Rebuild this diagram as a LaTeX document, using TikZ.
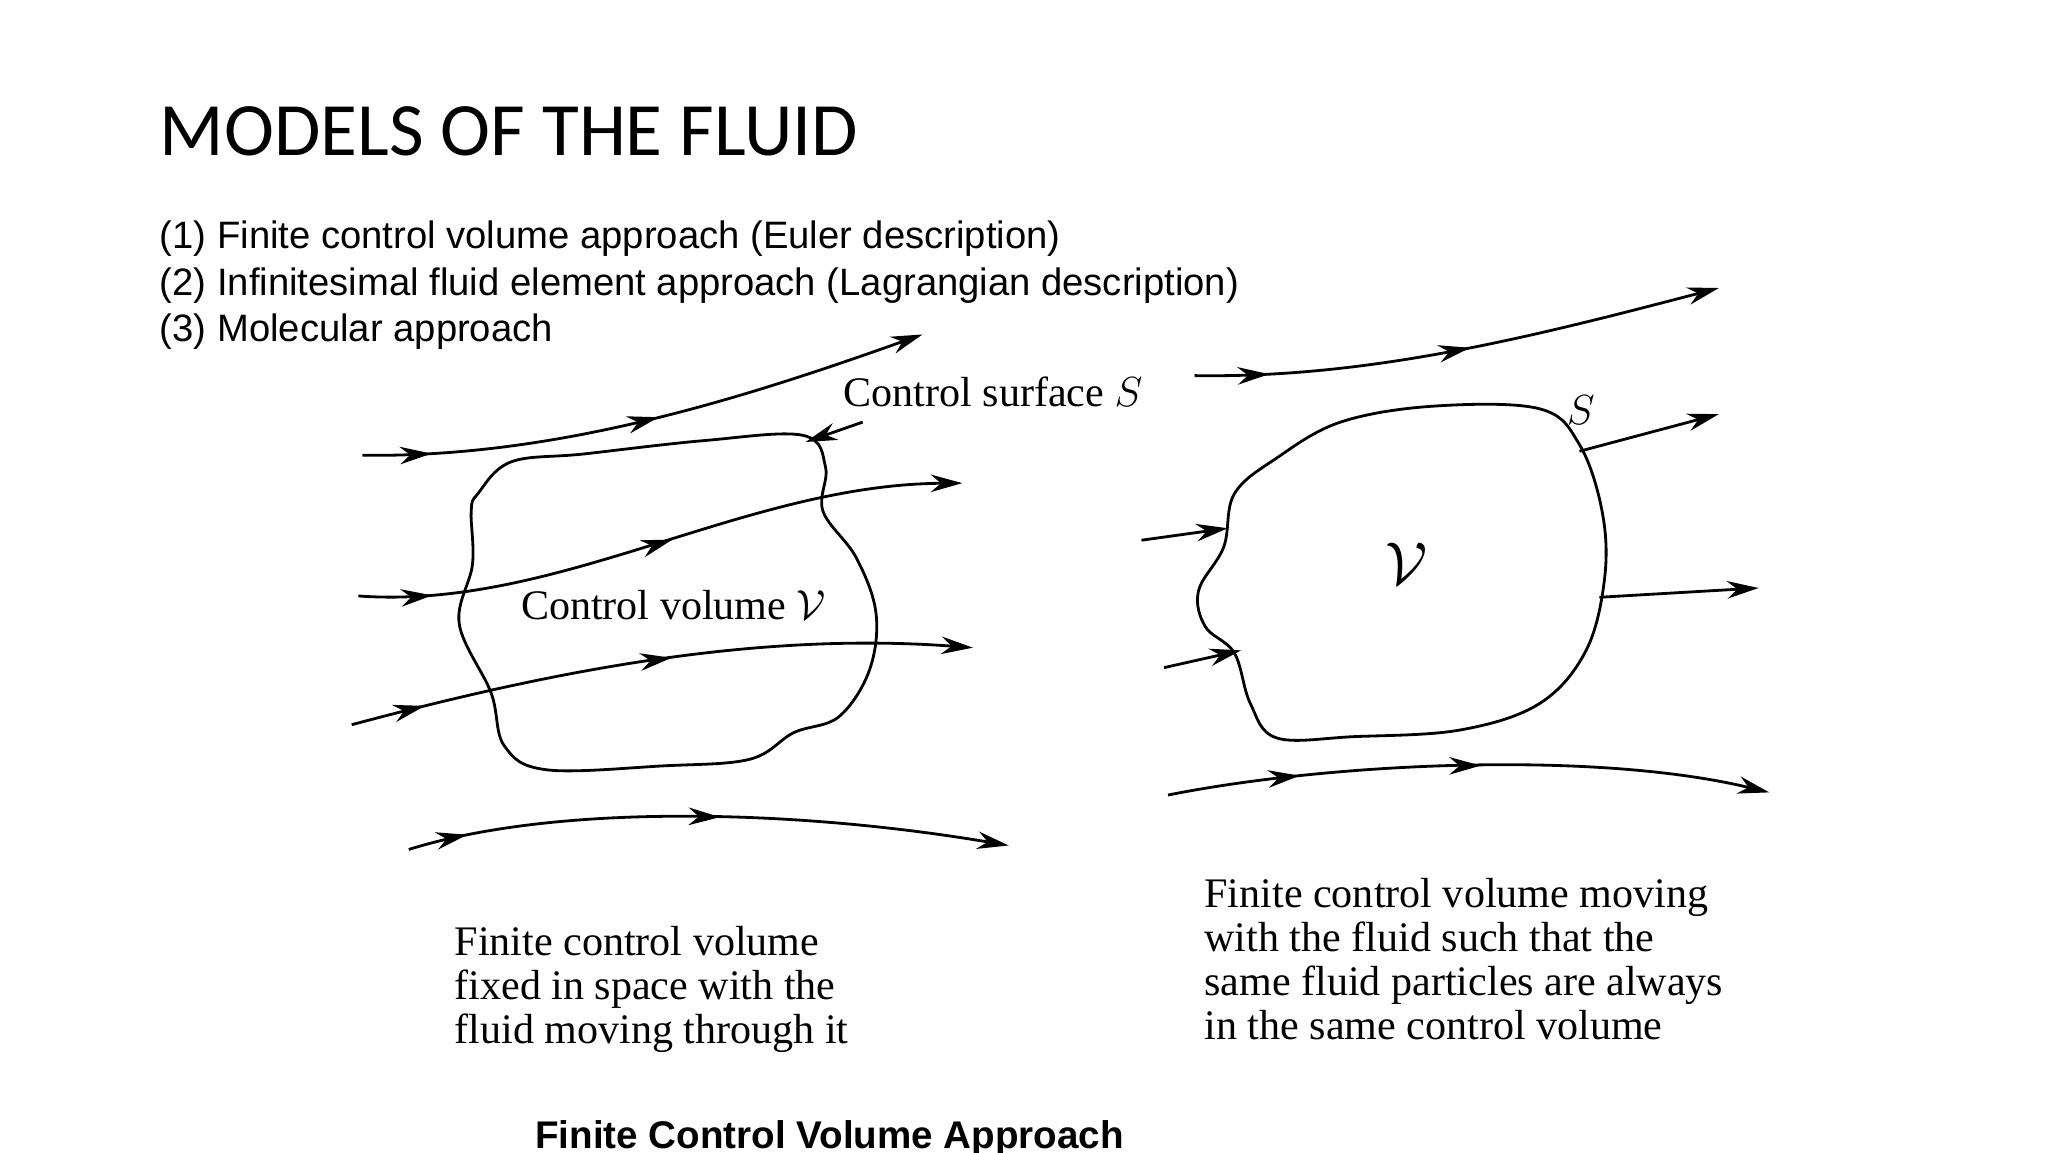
\documentclass[tikz,border=0pt]{standalone}
\usepackage{fontspec}
\setmainfont{Liberation Serif}
\newfontfamily\carl{Carlito}
\newfontfamily\lsans{Liberation Sans}
\usetikzlibrary{decorations.markings,arrows.meta}
\begin{document}
\begin{tikzpicture}[x=0.0133cm,y=-0.0133cm,
 tip/.style={-{Stealth[length=9pt,width=5pt]}},
 flow/.style={thick,tip,postaction={decorate},decoration={markings,
   mark=at position #1 with {\arrow{Stealth[length=9pt,width=5pt]}},
   mark=at position 0.52 with {\arrow{Stealth[length=9pt,width=5pt]}}}},
 flow/.default=0.12,
 blob/.style={thick},
 captxt/.style={font=\fontsize{12}{12.6}\selectfont,align=left,anchor=north west,inner sep=0}]
\useasboundingbox (0,0) rectangle (1543,868);
\node[anchor=base west,font=\carl\fontsize{21.5}{24}\selectfont,inner sep=0] (title) at (120,117) {MODELS OF THE FLUID};
\node[anchor=north west,font=\lsans\fontsize{10.9}{13.2}\selectfont,align=left,inner sep=0] (list) at (120,166)
 {(1) Finite control volume approach (Euler description)\\(2) Infinitesimal fluid element approach (Lagrangian description)\\(3) Molecular approach};
% left blob
\draw[blob] plot[smooth cycle,tension=0.6] coordinates{(360,372)(385,348)(440,342)(530,332)(605,328)(622,352)(620,385)(645,420)(660,462)(655,505)(632,540)(598,552)(565,572)(500,577)(412,580)(380,562)(370,522)(346,470)(356,425)(355,385)};
\draw[flow] (273,343) .. controls (420,345) and (560,300) .. (695,252);
\draw[flow] (270,449) .. controls (420,460) and (560,365) .. (725,364);
\draw[flow] (265,546) .. controls (400,510) and (560,475) .. (733,488);
\draw[flow=0.1] (308,640) .. controls (420,605) and (600,610) .. (760,637);
\node[anchor=base west,font=\fontsize{12}{14}\selectfont,inner sep=0] (cs) at (635,306) {Control surface $S$};
\coordinate (csa) at (650,318);
\draw[thick,tip] (csa) -- (607,333);
\node[anchor=base west,font=\fontsize{12}{14}\selectfont,inner sep=0] (cv) at (392,467) {Control volume $\mathcal{V}$};
% right blob
\draw[blob] plot[smooth cycle,tension=0.6] coordinates{(930,372)(962,345)(1010,318)(1080,306)(1160,308)(1190,335)(1207,385)(1209,435)(1195,490)(1160,530)(1100,550)(1020,555)(962,556)(942,530)(930,492)(908,472)(903,445)(922,412)};
\draw[flow=0.14] (900,283) .. controls (1030,285) and (1150,255) .. (1295,217);
\node[font=\fontsize{13}{14}\selectfont] (s) at (1191,309) {$S$};
\coordinate (a1) at (1190,340); \draw[thick,tip] (a1) -- (1295,312);
\coordinate (a2) at (860,407); \draw[thick,tip] (a2) -- (925,398);
\coordinate (a3) at (1205,450); \draw[thick,tip] (a3) -- (1325,443);
\coordinate (a4) at (877,503); \draw[thick,tip] (a4) -- (935,490);
\draw[flow=0.22] (880,599) .. controls (1000,575) and (1200,565) .. (1333,597);
\node[font=\fontsize{16}{16}\selectfont] (v) at (1060,425) {$\mathcal{V}$};
\node[captxt] (c1) at (342,697) {Finite control volume\\fixed in space with the\\fluid moving through it};
\node[captxt] (c2) at (907,661) {Finite control volume moving\\with the fluid such that the\\same fluid particles are always\\in the same control volume};
\node[font=\lsans\bfseries\fontsize{11}{13}\selectfont] (bt) at (625,858) {Finite Control Volume Approach};
\end{tikzpicture}
\end{document}
